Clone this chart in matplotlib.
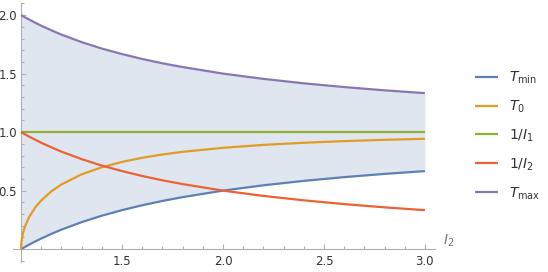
import matplotlib
matplotlib.use('Agg')
import matplotlib.pyplot as plt
from matplotlib.ticker import MultipleLocator, FixedLocator

# values (I2 on x)
i2 = [1.0, 1.001, 1.005, 1.01, 1.02, 1.04, 1.07, 1.1, 1.15, 1.2, 1.3, 1.4,
      1.5, 1.6, 1.7, 1.8, 2.0, 2.2, 2.4, 2.6, 2.8, 3.0]
t_min = [0.0, 0.001, 0.005, 0.0099, 0.0196, 0.0385, 0.0654, 0.0909, 0.1304,
         0.1667, 0.2308, 0.2857, 0.3333, 0.375, 0.4118, 0.4444, 0.5, 0.5455,
         0.5833, 0.6154, 0.6429, 0.6667]
t_0 = [0.0, 0.0447, 0.0996, 0.1404, 0.1971, 0.2747, 0.3558, 0.4166, 0.4938,
       0.5528, 0.639, 0.6999, 0.7454, 0.7806, 0.8087, 0.8315, 0.866, 0.8907,
       0.9091, 0.9231, 0.934, 0.9428]
inv_i1 = [1.0] * len(i2)
inv_i2 = [1.0, 0.999, 0.995, 0.990, 0.980, 0.962, 0.935, 0.909, 0.870, 0.833,
          0.769, 0.714, 0.667, 0.625, 0.588, 0.556, 0.5, 0.455, 0.417, 0.385,
          0.357, 0.333]
t_max = [2.0, 1.999, 1.995, 1.990, 1.980, 1.962, 1.935, 1.909, 1.870, 1.833,
         1.769, 1.714, 1.667, 1.625, 1.588, 1.556, 1.5, 1.455, 1.417, 1.385,
         1.357, 1.333]

labels = [r'$T_{\mathrm{min}}$', r'$T_0$', r'$1/I_1$', r'$1/I_2$', r'$T_{\mathrm{max}}$']
colors = ['#5E81B5', '#E19C24', '#8FB032', '#EB6235', '#8778B3']

plt.rcParams['mathtext.fontset'] = 'dejavusans'

fig = plt.figure(figsize=(5.48, 2.72), dpi=100)
ax = fig.add_axes([13 / 548, 10 / 272, 422 / 548, 258.6 / 272])

ax.fill_between(i2, t_min, t_max, color='#DFE6F0', lw=0, zorder=1)
series = [t_min, t_0, inv_i1, inv_i2, t_max]
lines = []
for ys, c, lab in zip(series, colors, labels):
    ln, = ax.plot(i2, ys, color=c, lw=1.6, label=lab, zorder=3,
                  solid_capstyle='butt')
    lines.append(ln)

ax.set_xlim(0.96, 3.05)
ax.set_ylim(-0.11, 2.1)

# axes crossing at (1, 0) like the original
for s in ['top', 'right']:
    ax.spines[s].set_visible(False)
ax.spines['left'].set_position(('data', 1))
ax.spines['bottom'].set_position(('data', 0))
for s in ['left', 'bottom']:
    ax.spines[s].set_color('#b0b0b0')
    ax.spines[s].set_linewidth(0.8)
    ax.spines[s].set_zorder(2)

ax.xaxis.set_major_locator(FixedLocator([1.5, 2.0, 2.5, 3.0]))
ax.xaxis.set_minor_locator(MultipleLocator(0.1))
ax.yaxis.set_major_locator(FixedLocator([0.5, 1.0, 1.5, 2.0]))
ax.yaxis.set_minor_locator(MultipleLocator(0.1))
ax.xaxis.set_major_formatter(lambda v, p: f'{v:.1f}')
ax.yaxis.set_major_formatter(lambda v, p: f'{v:.1f}')
ax.tick_params(which='both', direction='in', color='#b0b0b0', width=0.8,
               labelsize=8.5, labelcolor='#333333')
ax.tick_params(which='major', length=3.5)
ax.tick_params(which='minor', length=2)
ax.tick_params(axis='x', pad=4)
ax.tick_params(axis='y', pad=3)

ax.text(3.09, 0.0, r'$I_2$', color='#777777', fontsize=10,
        ha='left', va='bottom')

fig.legend(handles=lines, loc='upper left', bbox_to_anchor=(462 / 548, 1 - 57 / 272),
           frameon=False, fontsize=10, handlelength=1.7, handletextpad=0.75,
           labelspacing=0.9, labelcolor='#333333')

fig.savefig('out.png', dpi=100)
plt.close(fig)
